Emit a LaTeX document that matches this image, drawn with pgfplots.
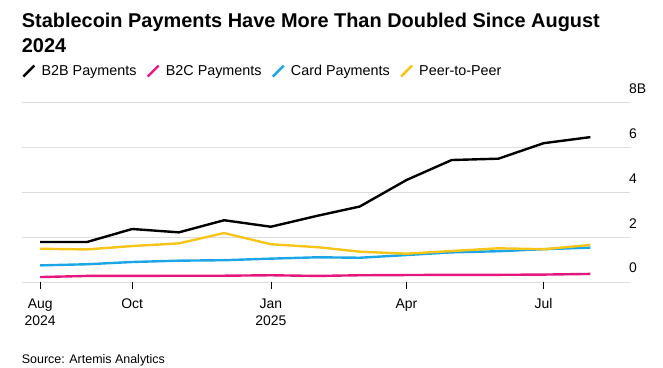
\documentclass[border=0pt]{standalone}
\usepackage{pgfplots}
\pgfplotsset{compat=1.18}
\usepackage{pgfplotstable}
\usepackage{fontspec}
\setmainfont{Liberation Sans}
\definecolor{bpink}{HTML}{E5177E}
\definecolor{bblue}{HTML}{1DA6E6}
\definecolor{byellow}{HTML}{F5C519}
\definecolor{bgrid}{HTML}{DDDDDD}
\pgfplotstableread{
d    b2b   b2c   card  p2p
0    1.78  0.22  0.74  1.48
31   1.78  0.27  0.79  1.45
61   2.36  0.27  0.89  1.60
92   2.21  0.28  0.95  1.72
122  2.75  0.28  0.97  2.18
153  2.46  0.30  1.04  1.68
184  2.95  0.27  1.10  1.55
212  3.36  0.30  1.08  1.35
243  4.54  0.31  1.20  1.26
273  5.43  0.32  1.32  1.38
304  5.49  0.32  1.37  1.50
334  6.18  0.33  1.46  1.46
365  6.45  0.36  1.53  1.65
}\data
\begin{document}
\begin{tikzpicture}
\useasboundingbox (0,0) rectangle (663bp,368bp);
\node[anchor=base west, inner sep=0, align=left, font=\fontsize{20}{25.4}\selectfont\bfseries] at (21.7bp,315.3bp) {Stablecoin Payments Have More Than Doubled Since August\\2024};
\begin{axis}[
  at={(22bp,86bp)}, anchor=south west,
  scale only axis, width=608bp, height=179.7bp,
  xmin=-12.1, xmax=391.3, ymin=0, ymax=8,
  axis line style={draw=none},
  ymajorgrids, grid style={bgrid, line width=0.9bp},
  ytick={0,2,4,6,8}, yticklabels={0,2,4,6,8\rlap{B}},
  yticklabel pos=right,
  ytick style={draw=none},
  yticklabel style={anchor=south east, inner sep=0, yshift=8.7bp, font=\fontsize{14}{16}\selectfont},
  xtick={0,61,153,243,334},
  xtick pos=bottom,
  xticklabels={Aug\\2024, Oct, Jan\\2025, Apr, Jul},
  xticklabel style={align=center, anchor=north, inner sep=0, yshift=-9.5bp, font=\fontsize{14}{17.7}\selectfont},
  tick align=outside, major tick length=7bp,
  xtick style={black, line width=0.6bp},
  legend columns=4,
  legend style={at={(0,1.174)}, anchor=west, draw=none, fill=none, inner sep=0,
    font=\fontsize{14.4}{16}\selectfont,
    nodes={inner sep=0},
    /tikz/every odd column/.append style={column sep=6bp},
    /tikz/every even column/.append style={column sep=10bp}},
  legend image code/.code={\draw[#1, line cap=butt] (0bp,-5.5bp) -- (11bp,5.5bp);},
  every axis plot/.append style={line width=2.4bp, line join=round},
]
\addplot[black] table[x=d, y=b2b] {\data};
\addplot[bpink] table[x=d, y=b2c] {\data};
\addplot[bblue] table[x=d, y=card] {\data};
\addplot[byellow] table[x=d, y=p2p] {\data};
\legend{B2B Payments, B2C Payments, Card Payments, Peer-to-Peer}
\draw[black, line width=0.8bp] (rel axis cs:0,0) -- (rel axis cs:1,0);
\end{axis}
\node[anchor=base west, inner sep=0, font=\fontsize{12.5}{14}\selectfont] at (21.7bp,4.7bp) {Source: Artemis Analytics};
\end{tikzpicture}
\end{document}
